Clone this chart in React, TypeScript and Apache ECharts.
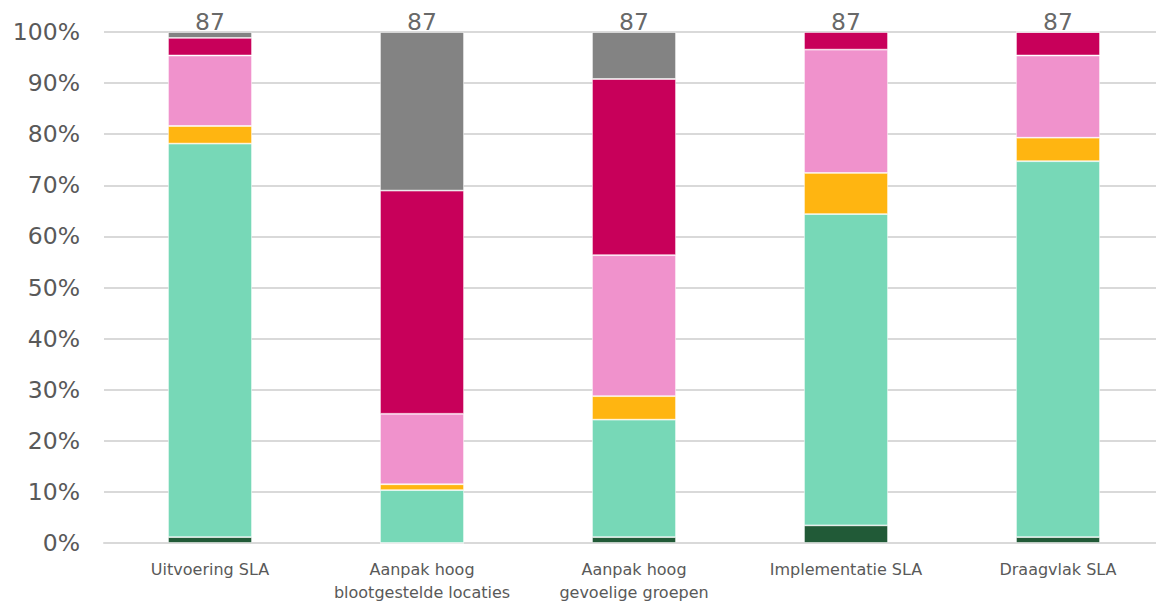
import React, { useEffect, useRef } from "react";
import * as echarts from "echarts";

// Categories (two-line labels where the original wraps)
const categories = [
  "Uitvoering SLA",
  "Aanpak hoog\nblootgestelde locaties",
  "Aanpak hoog\ngevoelige groepen",
  "Implementatie SLA",
  "Draagvlak SLA",
];

// Response counts per answer category (bottom to top of each stack)
const darkGreen = [1, 0, 1, 3, 1];
const teal = [67, 9, 20, 53, 64];
const orange = [3, 1, 4, 7, 4];
const pink = [12, 12, 24, 21, 14];
const crimson = [3, 38, 30, 3, 4];
const grey = [1, 27, 8, 0, 0];

const yTicks = [0, 10, 20, 30, 40, 50, 60, 70, 80, 90, 100];

const seriesDefs = [
  { name: "Donkergroen", data: darkGreen, color: "#215a37" },
  { name: "Groen", data: teal, color: "#77d8b7" },
  { name: "Oranje", data: orange, color: "#ffb511" },
  { name: "Roze", data: pink, color: "#f092cc" },
  { name: "Rood", data: crimson, color: "#c8005a" },
  { name: "Grijs", data: grey, color: "#838383" },
];

const totals = categories.map((_, i) =>
  seriesDefs.reduce((s, d) => s + d.data[i], 0)
);

const FONT = "DejaVu Sans";

export default function App() {
  const ref = useRef<HTMLDivElement>(null);

  useEffect(() => {
    if (!ref.current) return;
    document.body.style.overflow = "hidden";
    const chart = echarts.init(ref.current, null, { renderer: "svg" });

    const barSeries = seriesDefs.map((d) => ({
      name: d.name,
      type: "bar",
      stack: "totaal",
      barWidth: 84,
      data: d.data.map((v, i) => (v / totals[i]) * 100),
      itemStyle: {
        color: d.color,
        borderColor: "rgba(255,255,255,0.7)",
        borderWidth: 0.8,
      },
      emphasis: { disabled: true },
    }));

    chart.setOption({
      animation: false,
      // the plot area runs a little past the right edge of the visible page
      grid: { left: 104, right: 0, top: 32, height: 515 },
      xAxis: {
        type: "category",
        data: categories,
        axisTick: { show: false },
        axisLine: { lineStyle: { color: "#d9d9d9", width: 2 } },
        axisLabel: {
          interval: 0,
          margin: 15,
          color: "#595959",
          fontFamily: FONT,
          fontSize: 16,
          lineHeight: 23,
        },
      },
      yAxis: {
        type: "value",
        min: yTicks[0],
        max: yTicks[yTicks.length - 1],
        interval: 10,
        axisLine: { show: false },
        axisTick: { show: false },
        splitLine: { lineStyle: { color: "#d9d9d9", width: 2 } },
        axisLabel: {
          formatter: "{value}%",
          margin: 24,
          color: "#595959",
          fontFamily: FONT,
          fontSize: 23.5,
        },
      },
      series: [
        ...barSeries,
        {
          name: "Totaal",
          type: "scatter",
          symbolSize: 0,
          data: totals.map(() => 100),
          label: {
            show: true,
            position: "top",
            distance: -2,
            formatter: (p: any) => String(totals[p.dataIndex]),
            color: "#404040",
            fontFamily: FONT,
            fontSize: 23.5,
          },
          emphasis: { disabled: true },
          z: 5,
        },
      ],
    });

    return () => chart.dispose();
  }, []);

  return (
    <div
      ref={ref}
      style={{ position: "fixed", left: 0, top: 0, width: 1164, height: 604, background: "#fff" }}
    />
  );
}
